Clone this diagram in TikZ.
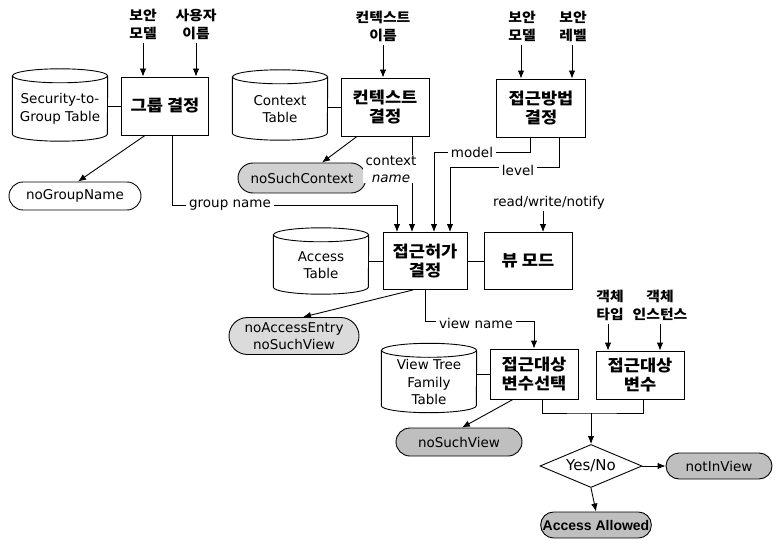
\documentclass[tikz,border=0pt]{standalone}
\usepackage{fontspec}
\setmainfont{DejaVu Sans}
\newfontfamily\kr{Noto Sans CJK KR}[FakeStretch=1.1]
\newfontfamily\arialsans{Liberation Sans}
\usetikzlibrary{arrows.meta,shapes.geometric,shapes.misc}

\tikzset{
  wire/.style={line width=0.9pt},
  arr/.style={wire, -{Latex[length=8pt,width=6.5pt]}},
  proc/.style={draw, wire, minimum width=88pt, minimum height=58pt, align=center,
    inner sep=2pt, font=\kr\bfseries\fontsize{16}{19}\selectfont},
  tbl/.style={minimum width=95pt, align=center, inner sep=0pt,
    font=\fontsize{13.5}{17.5}\selectfont},
  inlbl/.style={align=center, font=\kr\bfseries\fontsize{13.5}{18}\selectfont},
  term/.style={draw, wire, rounded rectangle, minimum height=28pt, align=center,
    inner sep=1pt, font=\fontsize{13.5}{16.5}\selectfont},
  tag/.style={fill=white, inner xsep=3pt, inner ysep=1pt, align=center,
    font=\fontsize{13.5}{17}\selectfont}
}

\begin{document}
\begin{tikzpicture}[x=1pt, y=-1pt]
  \useasboundingbox (0,0) rectangle (776,540);

  % processing steps
  \node[proc, minimum width=87pt] (grp) at (165,106) {그룹 결정};
  \node[proc] (ctx) at (385,107) {컨텍스트\\결정};
  \node[proc, minimum width=89pt] (mth) at (541,108) {접근방법\\결정};
  \node[proc, minimum width=84pt, minimum height=57pt] (acc) at (425,261) {접근허가\\결정};
  \node[proc, minimum height=57pt] (vmd) at (528,261) {뷰 모드};
  \node[proc, minimum height=50pt] (sel) at (534,374) {접근대상\\변수선택};
  \node[proc, minimum height=48pt] (var) at (640,375) {접근대상\\변수};

  % tables (text sits a little below the middle of the can)
  \node[tbl, minimum height=58pt] (sgt) at (60,109) {Security-to-\\Group Table};
  \node[tbl, minimum height=56pt] (ctt) at (280,109) {Context\\Table};
  \node[tbl, minimum height=52pt] (act) at (321,265) {Access\\Table};
  \node[tbl, minimum height=55pt] (vtt) at (429,382) {View Tree\\Family\\Table};
  \foreach \t in {sgt,ctt,act,vtt}{
    \draw[wire] ([yshift=4pt]\t.north west) -- ([yshift=4pt]\t.south west)
      arc[start angle=180, end angle=360, x radius=47.5pt, y radius=7pt]
      -- ([yshift=4pt]\t.north east);
    \draw[wire] ([yshift=4pt]\t.north) ellipse[x radius=47.5pt, y radius=7pt];
  }

  % inputs from above
  \node[inlbl] (smod) at (143,24) {보안\\모델};
  \node[inlbl] (usr) at (196,24) {사용자\\이름};
  \node[inlbl] (cnm) at (383,26) {컨텍스트\\이름};
  \node[inlbl] (smod2) at (522,26) {보안\\모델};
  \node[inlbl] (slev) at (573,26) {보안\\레벨};
  \node[inlbl] (otyp) at (610,305) {객체\\타입};
  \node[inlbl] (oins) at (660,305) {객체\\인스턴스};

  % results
  \node[term, fill=white, minimum width=134pt] (ngn) at (75,196) {noGroupName};
  \node[term, fill=black!18, minimum width=130pt, minimum height=30pt] (nsc) at (302,178) {noSuchContext};
  \node[term, fill=black!14, minimum width=132pt, minimum height=37pt] (nae) at (294,336) {noAccessEntry\\noSuchView};
  \node[term, fill=black!25, minimum width=128pt] (nsv) at (459,442) {noSuchView};
  \node[term, fill=black!25, minimum width=108pt, minimum height=26pt] (niv) at (719,466) {notInView};
  \node[term, fill=black!25, minimum width=106pt, minimum height=26pt,
    font=\arialsans\bfseries\fontsize{14}{16}\selectfont] (aal) at (596,525) {Access Allowed};
  \node[draw, wire, diamond, aspect=2.4, minimum width=102pt, minimum height=43pt,
    inner sep=0pt, font=\fontsize{15}{17}\selectfont] (yn) at (591,466) {Yes/No};

  % table lookups
  \draw[wire] (grp.west -| sgt.east) -- (grp.west);
  \draw[wire] (ctx.west -| ctt.east) -- (ctx.west);
  \draw[wire] (acc.west -| act.east) -- (acc.west);
  \draw[wire] (acc.east) -- (vmd.west);
  \draw[wire] (sel.west -| vtt.east) -- (sel.west);

  % arrows in from the top
  \draw[arr] (smod) -- (smod |- grp.north);
  \draw[arr] (usr) -- (usr |- grp.north);
  \draw[arr] (cnm) -- (cnm |- ctx.north);
  \draw[arr] ([xshift=-1pt]smod2.south) -- ([xshift=-1pt]smod2.south |- mth.north);
  \draw[arr] ([xshift=-1pt]slev.south) -- ([xshift=-1pt]slev.south |- mth.north);
  \draw[arr] ([xshift=-2pt]otyp.south) -- ([xshift=-2pt]otyp.south |- var.north);
  \draw[arr] (oins) -- (oins |- var.north);

  % error exits
  \draw[arr] ([xshift=-20pt]grp.south) -- ([xshift=3pt]ngn.north);
  \draw[arr] ([xshift=-28pt]ctx.south) -- ([xshift=20pt]nsc.north);
  \draw[arr] ([xshift=-12pt]acc.south) -- ([xshift=9pt]nae.north);
  \draw[arr] ([xshift=-21pt]sel.south) -- ([xshift=3pt]nsv.north);

  % ports on top of the access check
  \coordinate (inG) at ([xshift=-28pt]acc.north);
  \coordinate (inC) at ([xshift=-13pt]acc.north);
  \coordinate (inM) at ([xshift=9pt]acc.north);
  \coordinate (inL) at ([xshift=25pt]acc.north);

  \draw[arr] ([xshift=7pt]grp.south) |- (inG |- 0,205) -- (inG);
  \draw[arr] (inC |- ctx.south) -- (inC);
  \draw[arr] ([xshift=-11pt]mth.south) |- (inM |- 0,152) -- (inM);
  \draw[arr] ([xshift=18pt]mth.south) |- (inL |- 0,167) -- (inL);
  \node[tag] (gnm) at (230,205) {group name};
  \node[tag] (cxl) at (391,169) {context\\\textit{name}};
  \node[tag] (mdl) at (472,152) {model};
  \node[tag] (lvl) at (518,170) {level};

  % view mode request
  \node[tag] (rwn) at (549,203) {read/write/notify};
  \draw[arr] ([xshift=15pt]vmd.north |- rwn.south) -- ([xshift=15pt]vmd.north);

  % view name down to the variable selection
  \draw[arr] (acc.south) |- (sel.north |- 0,321) -- (sel.north);
  \node[tag] (vnm) at (476,323) {view name};

  % both variable boxes meet at the decision
  \coordinate (jn) at (yn.north |- 0,413);
  \draw[wire] ([xshift=8pt]sel.south) |- (jn) -| ([xshift=3pt]var.south);
  \draw[arr] (jn) -- (yn.north);
  \draw[arr] (yn.east) -- (niv.west);
  \draw[arr] (yn.south) -- (aal.north);
\end{tikzpicture}
\end{document}
